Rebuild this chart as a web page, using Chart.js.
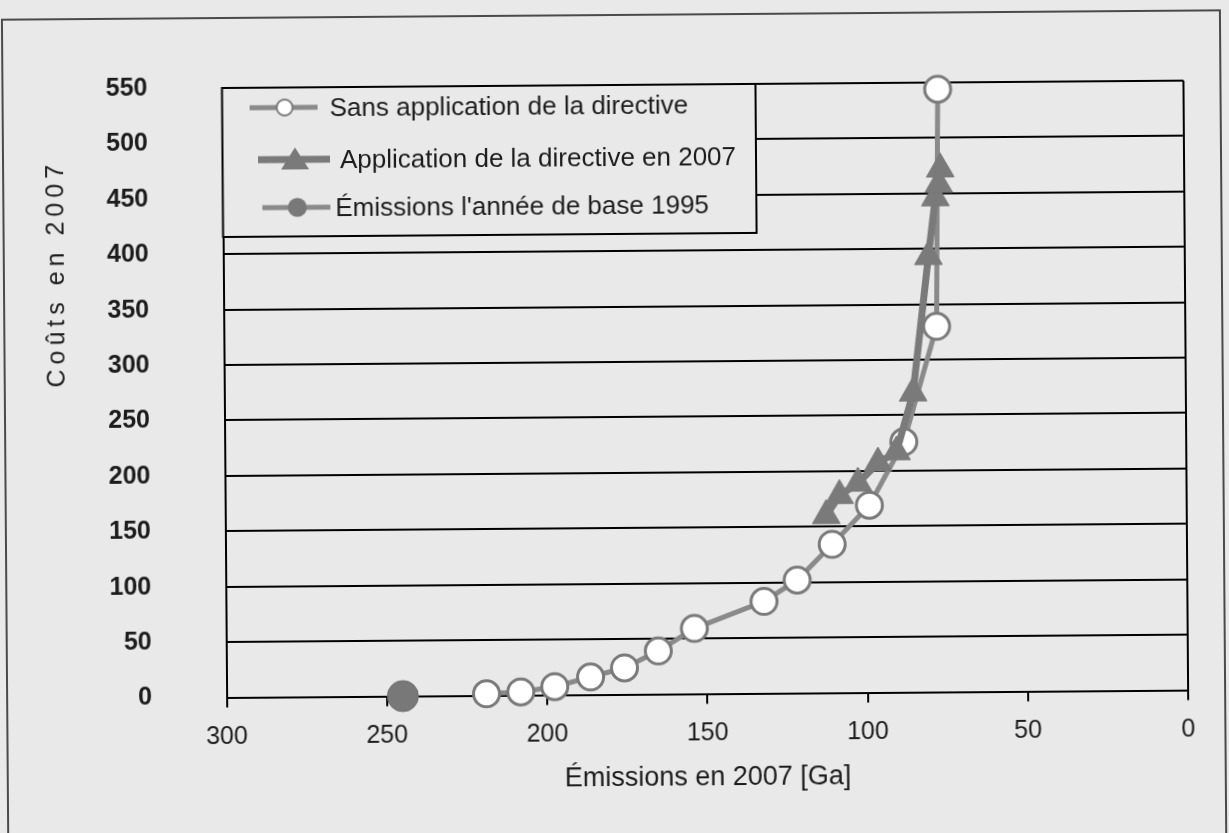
<!DOCTYPE html>
<html><head><meta charset="utf-8">
<script src="https://cdn.jsdelivr.net/npm/chart.js@4.4.1/dist/chart.umd.min.js"></script>
<style>
html,body{margin:0;padding:0;background:#e9e9e9;overflow:hidden;width:1229px;height:833px;position:relative}
#c{display:block;position:absolute;left:-20px;top:-20px;transform:rotate(-0.44deg);transform-origin:634.5px 436.5px;background:#e9e9e9}
</style></head><body>
<canvas id="c" width="1289" height="893"></canvas>
<script>
// ---- data ----
const xTicks = [300, 250, 200, 150, 100, 50, 0];
const yTicks = [0, 50, 100, 150, 200, 250, 300, 350, 400, 450, 500, 550];
const seriesNames = ["Sans application de la directive", "Application de la directive en 2007", "Émissions l'année de base 1995"];
const sansEmissions = [218.9, 208.2, 197.6, 186.4, 175.8, 165.2, 153.9, 132.1, 121.7, 110.7, 99.0, 88.1, 77.6, 76.7];
const sansCosts     = [1.5, 3, 7.5, 16, 24, 39, 59, 83, 102, 134, 169, 226, 330, 544];
const appEmissions  = [112.5, 108.3, 102.5, 96.2, 90.4, 85.1, 80.0, 77.7, 76.6, 76.1];
const appCosts      = [160, 178, 189, 207, 217, 270, 393, 446, 458, 472];
const baseEmissions = [245];
const baseCosts     = [0];
const xTitle = "Émissions en 2007 [Ga]";
const yTitle = "Coûts en 2007";

const FONT = "'Liberation Sans', Arial, sans-serif";
const TXT = '#1c1c1c';
const BG = '#e9e9e9';
const LINE1 = '#8a8a8a', RIM = '#7a7a7a', LINE2 = '#7a7a7a', DOT = '#787878';
const O = 20; // canvas offset (canvas starts 20px outside the page on left/top)

const pts = (xs, ys) => xs.map((x, i) => ({x: x, y: ys[i]}));

const overlay = {
  id: 'overlay',
  afterDraw(chart) {
    const ctx = chart.ctx, a = chart.chartArea;
    ctx.save();
    ctx.translate(O, O);
    // outer frame (three sides, bottom is off-page)
    ctx.strokeStyle = '#4a4a4a'; ctx.lineWidth = 2;
    ctx.beginPath(); ctx.moveTo(5, 860); ctx.lineTo(5, 15); ctx.lineTo(1223, 15); ctx.lineTo(1223, 860); ctx.stroke();
    // legend box
    const L = a.left - O, T = a.top - O, R = 758, B = 234;
    ctx.fillStyle = BG; ctx.fillRect(L, T, R - L, B - T);
    ctx.strokeStyle = '#000'; ctx.lineWidth = 2; ctx.strokeRect(L, T, R - L, B - T);
    ctx.font = "26px " + FONT; ctx.fillStyle = TXT; ctx.textBaseline = 'middle'; ctx.textAlign = 'left';
    // item 1
    ctx.strokeStyle = LINE1; ctx.lineWidth = 5;
    ctx.beginPath(); ctx.moveTo(252, 105); ctx.lineTo(320, 105); ctx.stroke();
    ctx.beginPath(); ctx.arc(287, 105, 8, 0, Math.PI * 2); ctx.fillStyle = '#fff'; ctx.fill();
    ctx.strokeStyle = RIM; ctx.lineWidth = 2; ctx.stroke();
    ctx.fillStyle = TXT; ctx.fillText(seriesNames[0], 332, 107);
    // item 2
    ctx.strokeStyle = LINE2; ctx.lineWidth = 7;
    ctx.beginPath(); ctx.moveTo(260, 157); ctx.lineTo(332, 157); ctx.stroke();
    ctx.beginPath(); ctx.moveTo(297, 145); ctx.lineTo(311, 167); ctx.lineTo(283, 167); ctx.closePath();
    ctx.fillStyle = LINE2; ctx.fill();
    ctx.fillStyle = TXT; ctx.fillText(seriesNames[1], 342, 159);
    // item 3
    ctx.strokeStyle = LINE1; ctx.lineWidth = 5;
    ctx.beginPath(); ctx.moveTo(264, 205); ctx.lineTo(332, 205); ctx.stroke();
    ctx.beginPath(); ctx.arc(299, 205, 9.5, 0, Math.PI * 2); ctx.fillStyle = DOT; ctx.fill();
    ctx.fillStyle = TXT; ctx.fillText(seriesNames[2], 337, 207);
    // y title
    ctx.translate(58, 272); ctx.rotate(-Math.PI / 2);
    ctx.font = "25px " + FONT; ctx.fillStyle = TXT; ctx.textAlign = 'center'; ctx.textBaseline = 'middle';
    if ('letterSpacing' in ctx) { ctx.letterSpacing = '5px'; ctx.fillText(yTitle, 2.5, 0); }
    else {
      const chars = [...yTitle]; let w = 0; const ws = chars.map(c => ctx.measureText(c).width + 5);
      ws.forEach(v => w += v); w -= 5; let x = -w / 2; ctx.textAlign = 'left';
      chars.forEach((c, i) => { ctx.fillText(c, x, 0); x += ws[i]; });
    }
    ctx.restore();
  }
};

new Chart(document.getElementById('c'), {
  type: 'scatter',
  data: {
    datasets: [
      { label: seriesNames[0], data: pts(sansEmissions, sansCosts), showLine: true, order: 1,
        borderColor: LINE1, borderWidth: 5, pointRadius: 13, pointBackgroundColor: '#fff',
        pointBorderColor: RIM, pointBorderWidth: 3, tension: 0, clip: false },
      { label: seriesNames[1], data: pts(appEmissions, appCosts), showLine: true, order: 0,
        borderColor: LINE2, borderWidth: 7, pointStyle: 'triangle', pointRadius: 16,
        pointBackgroundColor: LINE2, pointBorderColor: LINE2, pointBorderWidth: 1, tension: 0, clip: false },
      { label: seriesNames[2], data: pts(baseEmissions, baseCosts), showLine: false, order: 2,
        pointRadius: 15.5, pointBackgroundColor: DOT, pointBorderColor: '#6c6c6c', pointBorderWidth: 1, clip: false }
    ]
  },
  options: {
    responsive: false, animation: false, devicePixelRatio: 1,
    layout: { padding: { left: O, right: 43 + 40, top: 85 + O, bottom: 40 } },
    plugins: { legend: { display: false }, tooltip: { enabled: false } },
    scales: {
      x: {
        type: 'linear', min: 0, max: 300, reverse: true,
        afterBuildTicks: s => { s.ticks = xTicks.map(v => ({value: v})); },
        afterFit: s => { s.height = 138.5; },
        grid: { color: c => (c.tick && c.tick.value === 0) ? '#000' : 'rgba(0,0,0,0)', tickColor: '#000', lineWidth: 2, tickLength: 10 },
        border: { display: true, color: '#000', width: 2 },
        ticks: { font: { family: FONT, size: 25 }, color: TXT, padding: 15, maxRotation: 0, autoSkip: false },
        title: { display: true, text: xTitle, font: { family: FONT, size: 27 }, color: TXT, padding: { top: 0, bottom: 38 } }
      },
      y: {
        min: 0, max: 550,
        afterBuildTicks: s => { s.ticks = yTicks.map(v => ({value: v})); },
        afterFit: s => { s.width = 224.5; },
        grid: { color: '#000', lineWidth: 2, drawTicks: false },
        border: { display: true, color: '#000', width: 2 },
        ticks: { font: { family: FONT, size: 25, weight: 'bold' }, color: TXT, padding: 74.5, autoSkip: false }
      }
    }
  },
  plugins: [overlay]
});
</script>
</body></html>
